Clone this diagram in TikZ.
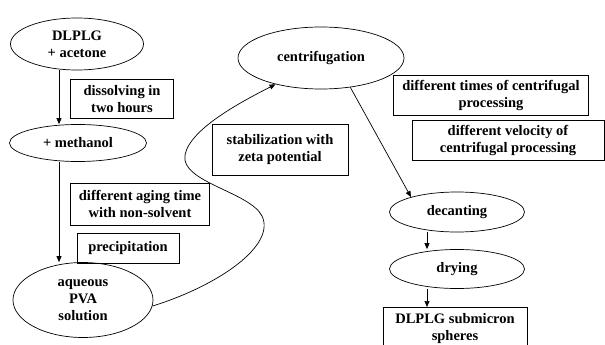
\documentclass[tikz,border=0pt]{standalone}
\usepackage{fontspec}
\setmainfont{Liberation Serif}
\usetikzlibrary{shapes.geometric,arrows.meta}
\begin{document}
\begin{tikzpicture}[x=1pt,y=-1pt,line width=0.7pt,
  every node/.style={font=\bfseries\fontsize{14.5}{17}\selectfont,align=center,inner sep=1pt},
  stage/.style={draw,ellipse},
  note/.style={draw,rectangle},
  arr/.style={-{Stealth[length=6pt,width=5pt,inset=0pt]}}]
  \clip (0,0) rectangle (605,345);
  % Left column
  \node[stage,minimum width=133,minimum height=52] (acetone) at (77,44) {DLPLG\\+ acetone};
  \node[stage,minimum width=137,minimum height=37] (methanol) at (78,143) {+ methanol};
  \node[stage,minimum width=140,minimum height=75] (pva) at (83,300) {aqueous\\PVA\\solution};
  \node[note,minimum width=103,minimum height=39] (dissolve) at (122,99) {dissolving in\\two hours};
  \node[note,minimum width=139,minimum height=42] (aging) at (140,204) {different aging time\\with non-solvent};
  \node[note,minimum width=102,minimum height=30] (precip) at (128,248) {precipitation};
  \coordinate (l1) at (59,0);
  \draw[arr] (l1 |- acetone.south) -- (l1 |- methanol.north);
  \draw[arr] (l1 |- methanol.south) -- (l1 |- pva.north);
  % Middle
  \node[stage,minimum width=166,minimum height=62] (centri) at (321,58) {centrifugation};
  \node[note,minimum width=136,minimum height=51] (zeta) at (280,150) {stabilization with\\zeta potential};
  \draw[arr] (pva.-5) .. controls (220,285) and (276,245) .. (262,216)
    .. controls (250,192) and (180,182) .. (185,155)
    .. controls (190,128) and (245,100) .. (centri.-150);
  % Right column
  \node[note,minimum width=195,minimum height=40] (times) at (491,95) {different times of centrifugal\\processing};
  \node[note,minimum width=192,minimum height=40] (velocity) at (508,140) {different velocity of\\centrifugal processing};
  \node[stage,minimum width=135,minimum height=40] (decant) at (457,212) {decanting};
  \node[stage,minimum width=135,minimum height=39] (dry) at (457,269) {drying};
  \node[note,minimum width=144,minimum height=42,anchor=north] (spheres) at (455,307) {DLPLG submicron\\spheres};
  \draw[arr] (centri.-45) -- (decant.162);
  \coordinate (l2) at (427,0);
  \draw[arr] (l2 |- decant.south) -- (l2 |- dry.north);
  \draw[arr] (l2 |- dry.south) -- (l2 |- spheres.north);
\end{tikzpicture}
\end{document}
